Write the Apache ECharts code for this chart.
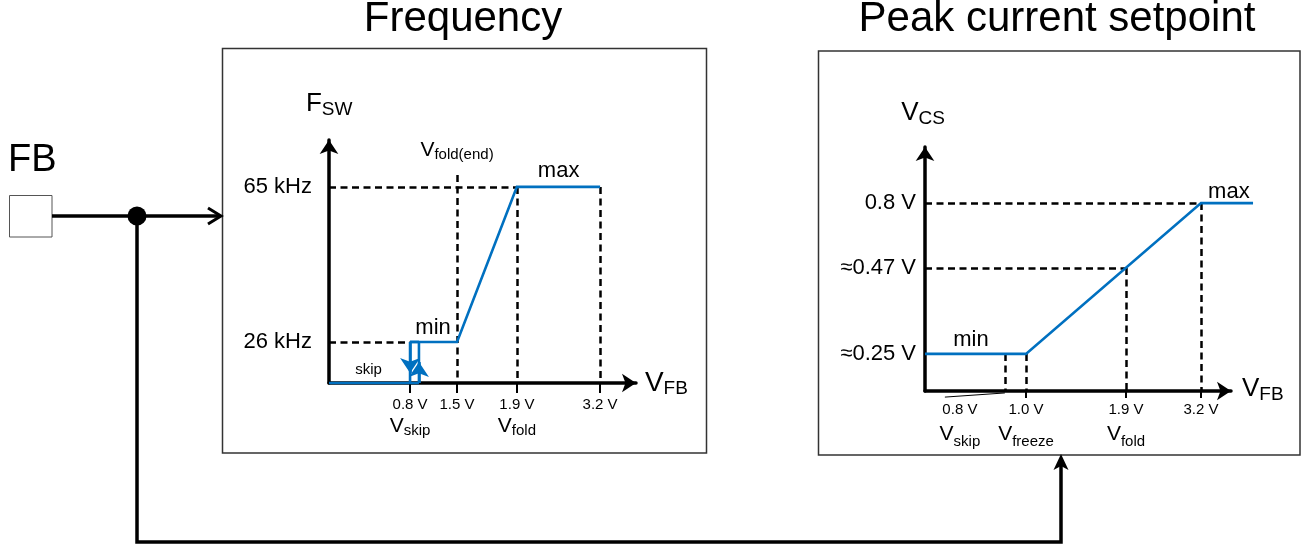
<!DOCTYPE html>
<html><head><meta charset="utf-8">
<script src="https://cdn.jsdelivr.net/npm/echarts@6/dist/echarts.min.js"></script>
<style>html,body{margin:0;padding:0;background:#fff}#c{width:1302px;height:548px}</style>
</head><body><div id="c"></div>
<script>
const FONT = '"Liberation Sans", Arial, Helvetica, sans-serif';
const BLUE = '#0070C0';
const DASH = [7, 4.5];

// ---------- Frequency chart (schematic axis units, 0..100) ----------
const fTickX = [26.4, 41.7, 61.2, 88.3];          // 0.8 V, 1.5 V, 1.9 V, 3.2 V
const fTickText = ['0.8 V', '1.5 V', '1.9 V', '3.2 V'];
const fTickName = ['skip', '', 'fold', ''];
const fLevelY = [16.9, 80.7];                      // 26 kHz, 65 kHz
const fLevelText = ['26 kHz', '65 kHz'];
const fSkipUpX = 29.3;                             // return path of the skip hysteresis
const fFoldEndTop = 85.6;                          // top of the Vfold(end) marker
const fDownArrowY = 4.1;
const fUpArrowY = 8.6;

// ---------- Peak current setpoint chart (schematic axis units, 0..100) ----------
const pTickX = [26.1, 33.0, 65.7, 90.2];           // 0.8 V, 1.0 V, 1.9 V, 3.2 V
const pLabelX = [11.4, 33.0, 65.7, 90.2];          // where the tick texts sit
const pTickText = ['0.8 V', '1.0 V', '1.9 V', '3.2 V'];
const pTickName = ['skip', 'freeze', 'fold', ''];
const pLevelY = [15.2, 50.4, 77.0];                // ~0.25 V, ~0.47 V, 0.8 V
const pLevelText = ['\u22480.25 V', '\u22480.47 V', '0.8 V'];
const pMaxEndX = 107.2;
const pLeader = [[6.5, -2.5], [26.1, -0.8]];

// ---------- annotations ----------
const fNotes = [
  { at: [-7.5, 114.9], text: '{V|F}{S|SW}', align: 'left' },
  { at: [41.7, 95.6], text: '{v|V}{s|fold(end)}', align: 'center' },
  { at: [74.8, 87.4], text: '{m|max}', align: 'center' },
  { at: [33.9, 22.8], text: '{m|min}', align: 'center' },
  { at: [12.9, 5.5], text: '{k|skip}', align: 'center' },
  { at: [102.9, -0.1], text: '{VL|V}{S|FB}', align: 'left' }
];
const pNotes = [
  { at: [-7.8, 114.0], text: '{V|V}{S|CS}', align: 'left' },
  { at: [99.3, 81.7], text: '{m|max}', align: 'center' },
  { at: [15.0, 21.1], text: '{m|min}', align: 'center' },
  { at: [103.6, 0.9], text: '{V|V}{S|FB}', align: 'left' }
];

// ---------- derived geometry ----------
const fCurve = [[fTickX[0], fLevelY[0]], [fTickX[1], fLevelY[0]], [fTickX[2], fLevelY[1]], [fTickX[3], fLevelY[1]]];
const fBlueSegs = [
  fCurve,
  [[0, 0], [fSkipUpX, 0]],
  [[fTickX[0], fLevelY[0]], [fTickX[0], 0]],
  [[fSkipUpX, 0], [fSkipUpX, fLevelY[0]]],
  [[fTickX[0], fLevelY[0]], [fSkipUpX, fLevelY[0]]]
];
const fArrows = [
  [[fTickX[0], fLevelY[0]], [fTickX[0], fDownArrowY]],
  [[fSkipUpX, 0], [fSkipUpX, fUpArrowY]]
];
const fDash = [
  [[0, fLevelY[1]], [fTickX[2], fLevelY[1]]],
  [[0, fLevelY[0]], [fTickX[0], fLevelY[0]]],
  [[fTickX[1], fFoldEndTop], [fTickX[1], 0]],
  [[fTickX[2], fLevelY[1]], [fTickX[2], 0]],
  [[fTickX[3], fLevelY[1]], [fTickX[3], 0]]
];
const pCurve = [[0, pLevelY[0]], [pTickX[1], pLevelY[0]], [pTickX[3], pLevelY[2]], [pMaxEndX, pLevelY[2]]];
const pDash = [
  [[0, pLevelY[2]], [pTickX[3], pLevelY[2]]],
  [[0, pLevelY[1]], [pTickX[2], pLevelY[1]]],
  [[pTickX[0], pLevelY[0]], [pTickX[0], 0]],
  [[pTickX[1], pLevelY[0]], [pTickX[1], 0]],
  [[pTickX[2], pLevelY[1]], [pTickX[2], 0]],
  [[pTickX[3], pLevelY[2]], [pTickX[3], 0]]
];

function nearest(arr, v) {
  let bi = 0, bd = Infinity;
  arr.forEach((a, i) => { const d = Math.abs(a - v); if (d < bd) { bd = d; bi = i; } });
  return bi;
}
const noteRich = {
  V: { fontSize: 26, lineHeight: 30, fontFamily: FONT, color: '#000' },
  VL: { fontSize: 28, lineHeight: 30, fontFamily: FONT, color: '#000' },
  S: { fontSize: 19, lineHeight: 12, verticalAlign: 'bottom', fontFamily: FONT, color: '#000' },
  v: { fontSize: 21, lineHeight: 24, fontFamily: FONT, color: '#000' },
  s: { fontSize: 15, lineHeight: 10, verticalAlign: 'bottom', fontFamily: FONT, color: '#000' },
  m: { fontSize: 22, lineHeight: 24, fontFamily: FONT, color: '#000' },
  k: { fontSize: 15, lineHeight: 18, fontFamily: FONT, color: '#000' }
};
function axisPair(gi, tickPos, labelPos, tickText, tickName, levels, levelText, tickLen, labMargin, subLH, yMargin) {
  const axLine = { show: true, onZero: true, symbol: ['none', 'arrow'], symbolSize: [14, 14],
    lineStyle: { color: '#000', width: 3.5 } };
  return {
    x: {
      type: 'value', gridIndex: gi, min: 0, max: 100, splitLine: { show: false },
      axisLine: axLine,
      axisTick: { show: true, customValues: tickPos, length: tickLen, lineStyle: { color: '#000', width: 2 } },
      axisLabel: {
        show: true, customValues: labelPos, margin: labMargin, color: '#000',
        formatter: v => {
          const i = nearest(labelPos, v);
          let s = '{t|' + tickText[i] + '}';
          if (tickName[i]) s += '\n{v|V}{s|' + tickName[i] + '}';
          return s;
        },
        rich: {
          t: { fontSize: 15, lineHeight: 18, fontFamily: FONT, color: '#000' },
          v: { fontSize: 21, lineHeight: subLH, fontFamily: FONT, color: '#000' },
          s: { fontSize: 15, lineHeight: 12, verticalAlign: 'bottom', fontFamily: FONT, color: '#000' }
        }
      }
    },
    y: {
      type: 'value', gridIndex: gi, min: 0, max: 100, splitLine: { show: false },
      axisLine: axLine, axisTick: { show: false },
      axisLabel: {
        show: true, customValues: levels, margin: yMargin,
        formatter: v => levelText[nearest(levels, v)],
        fontSize: 22, fontFamily: FONT, color: '#000'
      }
    }
  };
}
const fAx = axisPair(0, fTickX, fTickX, fTickText, fTickName, fLevelY, fLevelText, 10, 13, 24, 17);
const pAx = axisPair(1, pTickX.slice(1), pLabelX, pTickText, pTickName, pLevelY, pLevelText, 7, 10, 30, 9);

function dashSeries(ai, segs) {
  return { type: 'lines', coordinateSystem: 'cartesian2d', xAxisIndex: ai, yAxisIndex: ai, clip: false, silent: true,
    lineStyle: { color: '#000', width: 2.5, type: DASH, opacity: 1 }, z: 3,
    data: segs.map(c => ({ coords: c })) };
}
function blueSeries(ai, segs) {
  return { type: 'lines', coordinateSystem: 'cartesian2d', xAxisIndex: ai, yAxisIndex: ai, clip: false, silent: true,
    polyline: true, lineStyle: { color: BLUE, width: 2.6, opacity: 1, join: 'miter' }, z: 5,
    data: segs.map(c => ({ coords: c })) };
}
function noteSeries(ai, notes) {
  return { type: 'scatter', xAxisIndex: ai, yAxisIndex: ai, clip: false, silent: true, symbolSize: 0, z: 6,
    itemStyle: { opacity: 1 },
    data: notes.map(n => ({ value: n.at, label: { show: true, position: 'inside', align: n.align, verticalAlign: 'middle',
      color: '#000', opacity: 1, textBorderWidth: 0, formatter: n.text, rich: noteRich } })) };
}

const chart = echarts.init(document.getElementById('c'), null, { renderer: 'canvas' });
chart.setOption({
  animation: false,
  backgroundColor: '#fff',
  textStyle: { fontFamily: FONT, color: '#000' },
  grid: [
    { left: 329, top: 140, width: 307, height: 243 },
    { left: 925, top: 147, width: 306, height: 244 }
  ],
  xAxis: [fAx.x, pAx.x],
  yAxis: [fAx.y, pAx.y],
  series: [
    dashSeries(0, fDash),
    blueSeries(0, fBlueSegs),
    { type: 'lines', coordinateSystem: 'cartesian2d', xAxisIndex: 0, yAxisIndex: 0, clip: false, silent: true, z: 5,
      symbol: ['none', 'arrow'], symbolSize: [9, 15],
      lineStyle: { color: BLUE, width: 2.6, opacity: 1 }, data: fArrows.map(c => ({ coords: c })) },
    noteSeries(0, fNotes),
    dashSeries(1, pDash),
    blueSeries(1, [pCurve]),
    { type: 'lines', coordinateSystem: 'cartesian2d', xAxisIndex: 1, yAxisIndex: 1, clip: false, silent: true, z: 5,
      lineStyle: { color: '#000', width: 1, opacity: 1 }, data: [{ coords: pLeader }] },
    noteSeries(1, pNotes)
  ],
  graphic: [
    { type: 'text', x: 463, y: 19, style: { text: 'Frequency', font: '42px ' + FONT, fill: '#000', textAlign: 'center', textVerticalAlign: 'middle' } },
    { type: 'text', x: 1057, y: 19, style: { text: 'Peak current setpoint', font: '42px ' + FONT, fill: '#000', textAlign: 'center', textVerticalAlign: 'middle' } },
    { type: 'text', x: 8, y: 161, style: { text: 'FB', font: '38px ' + FONT, fill: '#000', textAlign: 'left', textVerticalAlign: 'middle' } },
    { type: 'rect', shape: { x: 222.5, y: 48.5, width: 484, height: 404.5 }, style: { fill: 'none', stroke: '#333', lineWidth: 1.5 } },
    { type: 'rect', shape: { x: 818.5, y: 51, width: 481.5, height: 404 }, style: { fill: 'none', stroke: '#333', lineWidth: 1.5 } },
    { type: 'rect', shape: { x: 9.5, y: 195.5, width: 42.5, height: 41.5 }, style: { fill: 'none', stroke: '#555', lineWidth: 1 } },
    { type: 'polyline', shape: { points: [[52, 216], [219, 216]] }, style: { stroke: '#000', lineWidth: 3.5 } },
    { type: 'polyline', shape: { points: [[208, 208], [221, 216], [208, 224]] }, style: { stroke: '#000', lineWidth: 3, fill: 'none' } },
    { type: 'circle', shape: { cx: 137, cy: 216, r: 9.5 }, style: { fill: '#000' } },
    { type: 'polyline', shape: { points: [[137, 216], [137, 542], [1061, 542], [1061, 465]] }, style: { stroke: '#000', lineWidth: 3.5, fill: 'none' } },
    { type: 'polygon', shape: { points: [[1061, 454], [1068.5, 470], [1061, 466], [1053.5, 470]] }, style: { fill: '#000' } }
  ]
});
</script></body></html>
